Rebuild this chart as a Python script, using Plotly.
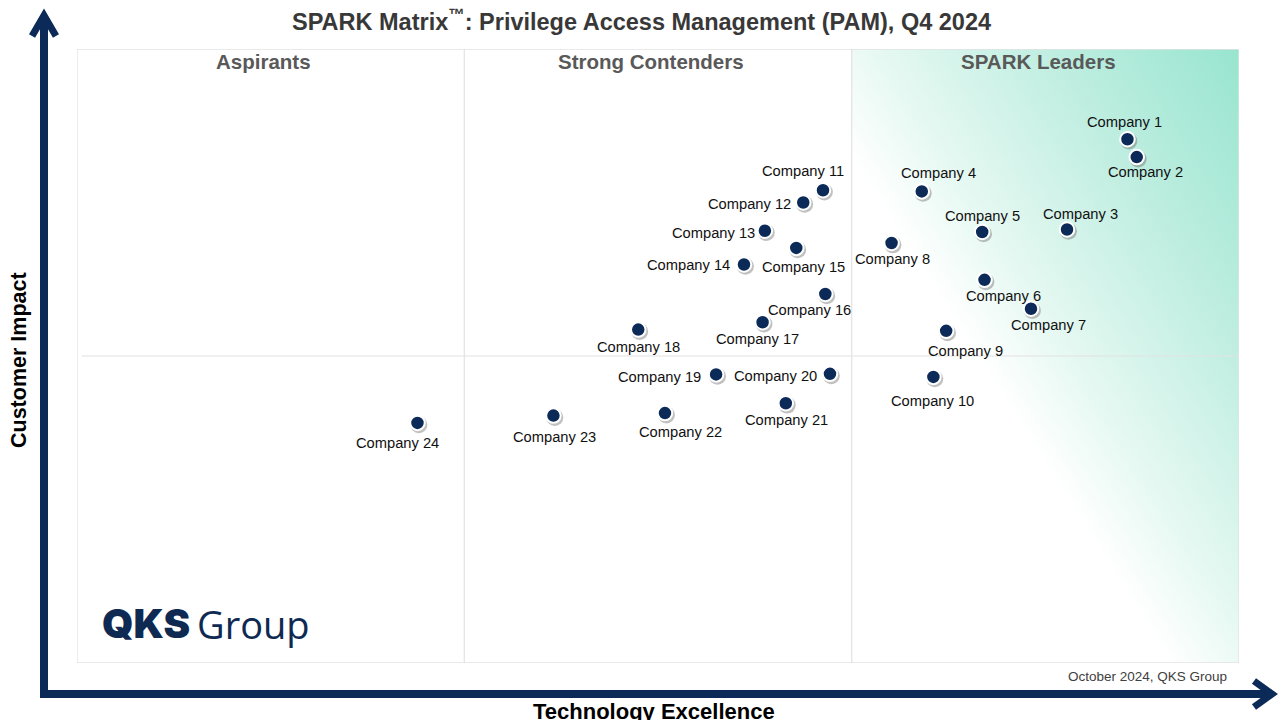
import base64
import plotly.graph_objects as go

# ---------------- data ----------------
companies = ["Company 1", "Company 2", "Company 3", "Company 4", "Company 5", "Company 6",
             "Company 7", "Company 8", "Company 9", "Company 10", "Company 11", "Company 12",
             "Company 13", "Company 14", "Company 15", "Company 16", "Company 17", "Company 18",
             "Company 19", "Company 20", "Company 21", "Company 22", "Company 23", "Company 24"]
technology_excellence = [90.4, 91.2, 85.2, 72.7, 77.9, 78.1, 82.1, 70.1, 74.8, 73.7, 64.2, 62.5,
                         59.2, 57.4, 61.9, 64.4, 59.0, 48.3, 55.0, 64.8, 61.0, 50.6, 41.0, 29.3]
customer_impact = [85.3, 82.4, 70.6, 76.8, 70.2, 62.4, 57.7, 68.4, 54.1, 46.6, 77.0, 75.0,
                   70.4, 64.9, 67.6, 60.1, 55.5, 54.3, 47.0, 47.1, 42.3, 40.7, 40.3, 39.1]
quadrant_names = ["Aspirants", "Strong Contenders", "SPARK Leaders"]
quadrant_bounds = [0, 33.33, 66.67, 100]
impact_mid = 50

title_text = "SPARK Matrix<sup>™</sup>: Privilege Access Management (PAM), Q4 2024"
x_title = "Technology Excellence"
y_title = "Customer Impact"
footnote = "October 2024, QKS Group"

# ---------------- label styling (pixel offsets of label vs marker) ----------------
# (anchor, dx, dy)  dy positive = downwards on screen
label_style = [
    ("center", -3, -17), ("center", 9, 15), ("center", 13, -16), ("center", 17, -18),
    ("center", 0, -16), ("center", 19, 16), ("center", 17, 16), ("center", 1, 16),
    ("center", 19, 20), ("center", -1, 24), ("center", -20, -19), ("right", -10, 1),
    ("right", -8, 2), ("right", -12, 0), ("center", 7, 19), ("center", -16, 16),
    ("center", -5, 17), ("center", 0, 17), ("right", -13, 3), ("right", -11, 2),
    ("center", 1, 17), ("center", 16, 19), ("center", 1, 21), ("center", -20, 20),
]

NAVY = "#0c2a58"
FONT = "Liberation Sans, Arial, sans-serif"

fig = go.Figure()

# shadow under markers
fig.add_trace(go.Scatter(
    x=[v + 0.12 for v in technology_excellence],
    y=[v - 0.3 for v in customer_impact],
    mode="markers",
    marker=dict(size=17, color="rgba(100,100,100,0.4)", line=dict(width=0)),
    hoverinfo="skip", showlegend=False))

fig.add_trace(go.Scatter(
    x=technology_excellence, y=customer_impact, mode="markers",
    text=companies, hoverinfo="text",
    marker=dict(size=14.5, color=NAVY, line=dict(color="white", width=2)),
    showlegend=False))

annotations = []
for name, xv, yv, (anc, dx, dy) in zip(companies, technology_excellence, customer_impact, label_style):
    annotations.append(dict(
        x=xv, y=yv, xref="x", yref="y", text=name, showarrow=False,
        xanchor=anc, yanchor="middle", xshift=dx, yshift=-dy,
        font=dict(family=FONT, size=14.7, color="#111111")))

# quadrant headings
for i, q in enumerate(quadrant_names):
    annotations.append(dict(
        x=(quadrant_bounds[i] + quadrant_bounds[i + 1]) / 2 - 0.6, y=0.979,
        xref="x", yref="paper", text=f"<b>{q}</b>", showarrow=False,
        xanchor="center", yanchor="middle",
        font=dict(family=FONT, size=20.5, color="#595959")))

# title
annotations.append(dict(x=0.486, y=1.047, xref="paper", yref="paper", text=f"<b>{title_text}</b>",
                        showarrow=False, xanchor="center", yanchor="middle",
                        font=dict(family=FONT, size=23.5, color="#383838")))
# axis titles
annotations.append(dict(x=-0.0499, y=0.4935, xref="paper", yref="paper", text=f"<b>{y_title}</b>",
                        showarrow=False, textangle=-90, xanchor="center", yanchor="middle",
                        font=dict(family=FONT, size=21.5, color="#000000")))
annotations.append(dict(x=0.4966, y=-0.0795, xref="paper", yref="paper", text=f"<b>{x_title}</b>",
                        showarrow=False, xanchor="center", yanchor="middle",
                        font=dict(family=FONT, size=22, color="#000000")))
# footnote
annotations.append(dict(x=0.9914, y=-0.0228, xref="paper", yref="paper", text=footnote,
                        showarrow=False, xanchor="right", yanchor="middle",
                        font=dict(family=FONT, size=13.5, color="#404040")))
# logo
annotations.append(dict(x=0.0195, y=0.064, xref="paper", yref="paper", text="QKS",
                        showarrow=False, xanchor="left", yanchor="middle",
                        font=dict(family="Inter, Roboto, sans-serif", size=40, color="#0f2a52", weight=900)))
annotations.append(dict(x=0.1015, y=0.064, xref="paper", yref="paper", text="Group",
                        showarrow=False, xanchor="left", yanchor="middle",
                        font=dict(family="Open Sans, Roboto, sans-serif", size=38, color="#0f2a52", weight=400)))

# leaders gradient as an svg image
svg = ('<svg xmlns="http://www.w3.org/2000/svg" width="390" height="614" viewBox="0 0 390 614" '
       'preserveAspectRatio="none"><defs><linearGradient id="g" x1="0" y1="1" x2="1" y2="0">'
       '<stop offset="0" stop-color="#ffffff"/><stop offset="0.41" stop-color="#ffffff"/>'
       '<stop offset="0.54" stop-color="#e4f8f1"/><stop offset="0.75" stop-color="#c0eee1"/>'
       '<stop offset="1" stop-color="#98e5cf"/></linearGradient></defs>'
       '<rect x="0" y="0" width="390" height="614" fill="url(#g)"/></svg>')
svg_uri = "data:image/svg+xml;base64," + base64.b64encode(svg.encode()).decode()

images = [dict(source=svg_uri, xref="x", yref="y", x=quadrant_bounds[2], y=100,
               sizex=quadrant_bounds[3] - quadrant_bounds[2], sizey=100,
               sizing="stretch", layer="below", xanchor="left", yanchor="top")]

GRID = "#e2e2e2"
shapes = [
    dict(type="rect", xref="x", yref="y", x0=0, x1=100, y0=0, y1=100,
         line=dict(color=GRID, width=1.3), layer="above"),
    dict(type="line", xref="x", yref="y", x0=quadrant_bounds[1], x1=quadrant_bounds[1], y0=0, y1=100,
         line=dict(color=GRID, width=1.2), layer="above"),
    dict(type="line", xref="x", yref="y", x0=quadrant_bounds[2], x1=quadrant_bounds[2], y0=0, y1=100,
         line=dict(color=GRID, width=1.2), layer="above"),
    dict(type="line", xref="x", yref="y", x0=0.4, x1=100.4, y0=impact_mid, y1=impact_mid,
         line=dict(color=GRID, width=1.2), layer="above"),
    # axis arrows
    dict(type="line", xref="paper", yref="paper", x0=-0.0284, x1=-0.0284, y0=-0.057, y1=1.05,
         line=dict(color=NAVY, width=8)),
    dict(type="line", xref="paper", yref="paper", x0=-0.0318, x1=1.024, y0=-0.0505, y1=-0.0505,
         line=dict(color=NAVY, width=8)),
    dict(type="path", xref="paper", yref="paper",
         path="M -0.0387 1.0212 L -0.0284 1.0545 L -0.0181 1.0212",
         line=dict(color=NAVY, width=7)),
    dict(type="path", xref="paper", yref="paper",
         path="M 1.0129 -0.0293 L 1.0284 -0.0505 L 1.0129 -0.0717",
         line=dict(color=NAVY, width=7)),
]

fig.update_layout(
    width=1280, height=720,
    margin=dict(l=77, r=41, t=49, b=57),
    paper_bgcolor="white", plot_bgcolor="white",
    xaxis=dict(range=[0, 100], visible=False, fixedrange=True),
    yaxis=dict(range=[0, 100], visible=False, fixedrange=True),
    annotations=annotations, shapes=shapes, images=images,
    font=dict(family=FONT),
)

fig.write_html("out.html", include_plotlyjs=True, full_html=True,
               config={"displayModeBar": False},
               post_script="document.body.style.margin='0';")
